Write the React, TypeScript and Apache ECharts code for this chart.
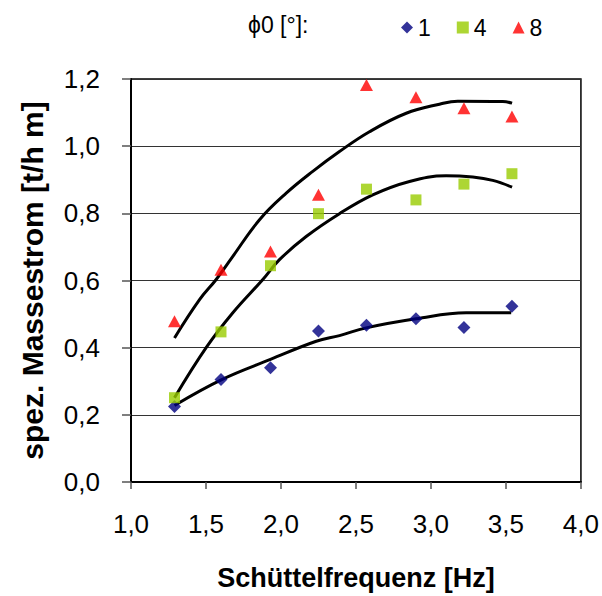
import React, { useEffect, useRef } from "react";
import * as echarts from "echarts";

const freq = [1.29, 1.6, 1.93, 2.25, 2.57, 2.9, 3.22, 3.54];
const phi1 = [0.225, 0.305, 0.34, 0.45, 0.467, 0.486, 0.46, 0.523];
const phi4 = [0.251, 0.447, 0.644, 0.799, 0.872, 0.84, 0.887, 0.918];
const phi8 = [0.479, 0.632, 0.686, 0.855, 1.182, 1.146, 1.113, 1.088];

const fit1 = [[1.29, 0.228], [1.605, 0.305], [1.93, 0.365], [2.235, 0.419], [2.39, 0.436], [2.568, 0.459], [2.901, 0.486], [3.235, 0.504], [3.535, 0.504]];
const fit4 = [[1.29, 0.251], [1.501, 0.4], [1.679, 0.504], [1.879, 0.603], [1.99, 0.662], [2.168, 0.731], [2.39, 0.799], [2.612, 0.855], [2.857, 0.895], [3.101, 0.912], [3.279, 0.908], [3.412, 0.898], [3.541, 0.878]];
const fit8 = [[1.29, 0.429], [1.457, 0.543], [1.568, 0.603], [1.679, 0.672], [1.857, 0.781], [2.035, 0.86], [2.212, 0.925], [2.39, 0.984], [2.59, 1.043], [2.835, 1.098], [3.057, 1.125], [3.179, 1.134], [3.479, 1.133], [3.541, 1.128]];

const seriesNames = ["1", "4", "8"];
const legendTitle = "ϕ0 [°]:";
const xTitle = "Schüttelfrequenz [Hz]";
const yTitle = "spez. Massestrom [t/h m]";

const FONT = "'Liberation Sans', Arial, sans-serif";
const fmt = (v: number) => v.toFixed(1).replace(".", ",");

export default function App() {
  const ref = useRef<HTMLDivElement>(null);
  useEffect(() => {
    if (!ref.current) return;
    const chart = echarts.init(ref.current, undefined, { renderer: "svg" });
    const zip = (ys: number[]) => freq.map((x, i) => [x, ys[i]]);
    const fitLine = (d: number[][]) => ({
      type: "line",
      data: d,
      smooth: 0.4,
      showSymbol: false,
      symbol: "none",
      lineStyle: { color: "#000", width: 3 },
      z: 3,
      silent: true,
    });
    chart.setOption({
      animation: false,
      backgroundColor: "#fff",
      textStyle: { fontFamily: FONT },
      grid: { left: 131, top: 79, right: 20, bottom: 113, show: true, borderColor: "#000", borderWidth: 1.5 },
      legend: {
        data: [
          { name: seriesNames[0], icon: "diamond", itemStyle: { color: "#000080" } },
          { name: seriesNames[1], icon: "rect", itemStyle: { color: "#99CC00" } },
          { name: seriesNames[2], icon: "triangle", itemStyle: { color: "#FF0000" } },
        ],
        left: 396,
        top: 11,
        itemWidth: 12,
        itemHeight: 12,
        itemGap: 26,
        textStyle: { fontSize: 23, color: "#000", fontFamily: FONT },
        selectedMode: false,
      },
      graphic: [
        {
          type: "text",
          left: 248,
          top: 13,
          style: { text: legendTitle, fontSize: 23, fill: "#000", fontFamily: FONT },
        },
      ],
      xAxis: {
        type: "value",
        min: 1,
        max: 4,
        interval: 0.5,
        name: xTitle,
        nameLocation: "middle",
        nameGap: 82,
        nameTextStyle: { fontSize: 27, fontWeight: "bold", color: "#000", fontFamily: FONT },
        axisLine: { show: true, lineStyle: { color: "#000", width: 2 } },
        axisTick: { show: true, inside: false, length: 7, lineStyle: { color: "#555", width: 1.5 } },
        axisLabel: { formatter: fmt, fontSize: 26, color: "#000", margin: 29, fontFamily: FONT },
        splitLine: { show: false },
      },
      yAxis: {
        type: "value",
        min: 0,
        max: 1.2,
        interval: 0.2,
        name: yTitle,
        nameLocation: "middle",
        nameGap: 84,
        nameTextStyle: { fontSize: 30, fontWeight: "bold", color: "#000", fontFamily: FONT },
        axisLine: { show: true, lineStyle: { color: "#000", width: 2 } },
        axisTick: { show: true, inside: false, length: 9, lineStyle: { color: "#555", width: 1.5 } },
        axisLabel: { formatter: fmt, fontSize: 26, color: "#000", margin: 31, fontFamily: FONT },
        splitLine: { show: true, lineStyle: { color: "#333", width: 1 } },
      },
      series: [
        fitLine(fit1),
        fitLine(fit4),
        fitLine(fit8),
        {
          name: seriesNames[0],
          type: "scatter",
          data: zip(phi1),
          symbol: "diamond",
          symbolSize: 13,
          itemStyle: { color: "#000080" },
          z: 4,
        },
        {
          name: seriesNames[1],
          type: "scatter",
          data: zip(phi4),
          symbol: "rect",
          symbolSize: 11,
          itemStyle: { color: "#99CC00" },
          z: 4,
        },
        {
          name: seriesNames[2],
          type: "scatter",
          data: zip(phi8),
          symbol: "triangle",
          symbolSize: [13, 12],
          itemStyle: { color: "#FF0000" },
          z: 4,
        },
      ],
    });
    return () => chart.dispose();
  }, []);
  return (
    <div
      ref={ref}
      style={{ position: "absolute", left: 0, top: 0, width: 602, height: 596, background: "#fff" }}
    />
  );
}
